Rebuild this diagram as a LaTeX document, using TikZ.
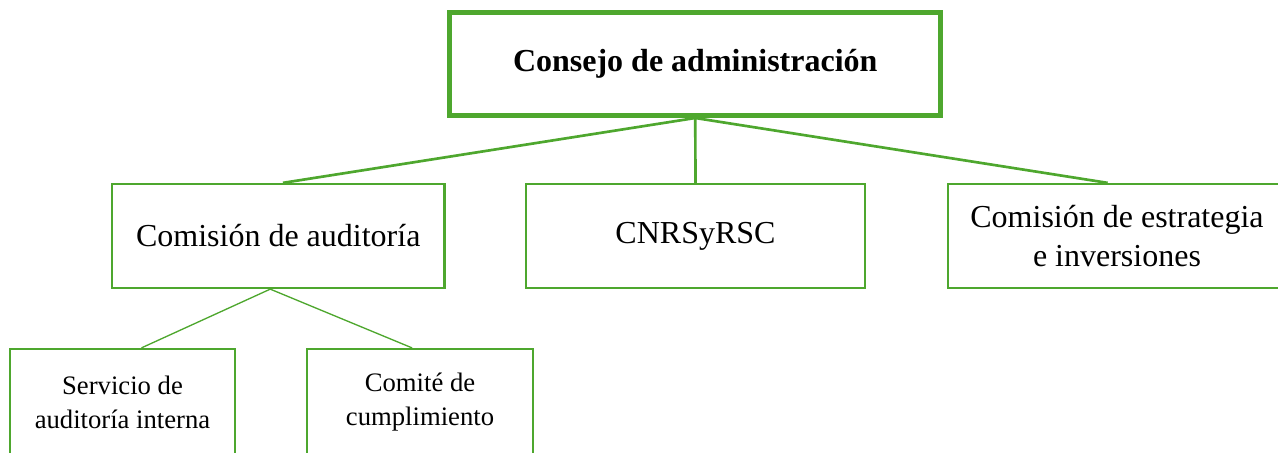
\documentclass[tikz,border=0pt]{standalone}
\usepackage{fontspec}
\setmainfont{Liberation Serif}
\definecolor{orggreen}{RGB}{78,167,46}
\tikzset{
  unit/.style={draw=orggreen, line width=1.7pt, align=center, inner sep=0pt,
    minimum height=78pt, font=\fontsize{24}{29}\selectfont},
  subunit/.style={unit, minimum height=79.5pt, font=\fontsize{20}{25.5}\selectfont},
  branch/.style={draw=orggreen, line width=2pt},
  twig/.style={draw=orggreen, line width=1pt}
}
\begin{document}
\begin{tikzpicture}[x=0.75pt, y=-0.75pt]
\useasboundingbox (0,0) rectangle (1278,453);
\clip (0,0) rectangle (1278,453);

\node[unit, line width=3.75pt, minimum width=368pt, minimum height=77.25pt, font=\fontsize{24}{29}\selectfont\bfseries] (board) at (695.25,64){Consejo de administración};

\node[unit, minimum width=249.4pt] (audit) at (278.25,236){Comisión de auditoría};
\node[unit, minimum width=254pt] (cnr) at (695.5,236){CNRSyRSC};
\node[unit, minimum width=253.5pt] (strat) at (1117,236){Comisión de estrategia\\e inversiones};

\node[subunit, minimum width=169pt] (intern) at (122.5,402){Servicio de\\auditoría interna};
\node[subunit, minimum width=169.5pt] (compl) at (420,402){Comité de\\cumplimiento};

\draw[branch] (board.south) -- ([xshift=3.5pt]audit.north);
\draw[branch] (board.south) -- (cnr.north);
\draw[branch] (board.south) -- ([xshift=-7pt]strat.north);

\draw[twig] ([xshift=-6pt]audit.south) -- ([xshift=14.25pt]intern.north);
\draw[twig] ([xshift=-6pt]audit.south) -- ([xshift=-6pt]compl.north);
\end{tikzpicture}
\end{document}
